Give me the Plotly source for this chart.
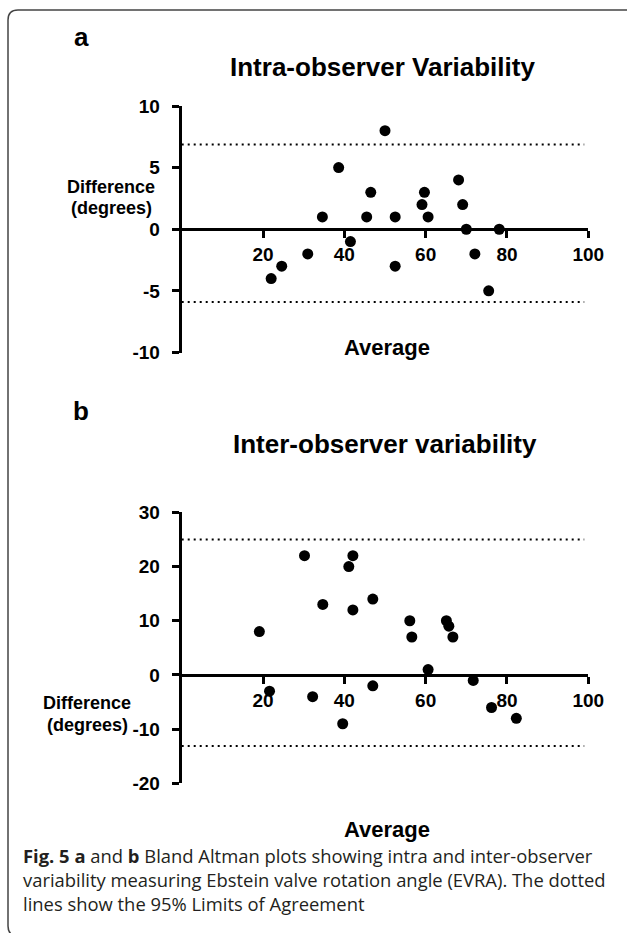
import plotly.graph_objects as go

# ---------------- data ----------------
intra_avg = [22, 24.6, 31, 34.6, 38.6, 41.5, 45.5, 46.5, 50, 52.5, 52.5, 59.1, 59.7, 60.6, 68.1, 69.1, 70, 72.1, 75.5, 78.1]
intra_diff = [-4, -3, -2, 1, 5, -1, 1, 3, 8, 1, -3, 2, 3, 1, 4, 2, 0, -2, -5, 0]
intra_loa = [6.88, -5.91]

inter_avg = [19.1, 21.6, 30.2, 32.2, 34.7, 39.6, 41.1, 42.1, 42.1, 47, 47, 56.1, 56.6, 60.6, 65.1, 65.7, 66.7, 71.7, 76.2, 82.3]
inter_diff = [8, -3, 22, -4, 13, -9, 20, 22, 12, 14, -2, 10, 7, 1, 10, 9, 7, -1, -6, -8]
inter_loa = [25.0, -13.1]

loa_span = [0, 99]
x_range = [0, 100]
x_ticks = [20, 40, 60, 80, 100]
x_ticktext = ["20", "40", "60", "80", "100"]
intra_range = [-10, 10]
intra_ticks = [-10, -5, 0, 5, 10]
intra_ticktext = ["-10", "-5", "0", "5", "10"]
inter_range = [-20, 30]
inter_ticks = [-20, -10, 0, 10, 20, 30]
inter_ticktext = ["-20", "-10", "0", "10", "20", "30"]

titles = ["Intra-observer Variability", "Inter-observer variability"]
panel_letters = ["a", "b"]

# ---------------- layout helpers ----------------
W, H = 627, 933
def px_x(p):
    return p / W
def px_y(p):
    return 1 - p / H

xdom = [px_x(181.7), px_x(588.3)]
ydom_a = [px_y(352.5), px_y(106)]
ydom_b = [px_y(783.4), px_y(512.3)]

def zero_pos(dom, rng):
    return dom[0] + (0 - rng[0]) / (rng[1] - rng[0]) * (dom[1] - dom[0])

FONT = "Liberation Sans"
tickfont = dict(family=FONT, size=19, color="black", weight="bold")

fig = go.Figure()

for (xs, ys, loa, xa, ya) in [
    (intra_avg, intra_diff, intra_loa, "x", "y"),
    (inter_avg, inter_diff, inter_loa, "x2", "y2"),
]:
    for v in loa:
        fig.add_trace(go.Scatter(x=loa_span, y=[v, v], mode="lines",
                                 line=dict(color="black", width=2, dash="2px,4px"),
                                 xaxis=xa, yaxis=ya, showlegend=False, hoverinfo="skip"))
    fig.add_trace(go.Scatter(x=xs, y=ys, mode="markers",
                             marker=dict(color="black", size=11),
                             xaxis=xa, yaxis=ya, showlegend=False, cliponaxis=False))

xaxis_common = dict(range=x_range, tickvals=x_ticks, ticktext=x_ticktext,
                    showgrid=False, zeroline=False,
                    showline=True, linewidth=3, linecolor="black",
                    ticks="outside", ticklen=7, tickwidth=3, tickcolor="black",
                    tickfont=tickfont, anchor="free", ticklabelstandoff=0)
yaxis_common = dict(showgrid=False, zeroline=False, showline=True, linewidth=3,
                    linecolor="black", ticks="outside", ticklen=7, tickwidth=3,
                    tickcolor="black", tickfont=tickfont, ticklabelstandoff=8)

fig.update_layout(
    width=W, height=H,
    margin=dict(l=0, r=0, t=0, b=0, autoexpand=False),
    paper_bgcolor="white", plot_bgcolor="white",
    xaxis=dict(domain=xdom, position=zero_pos(ydom_a, intra_range), **xaxis_common),
    yaxis=dict(domain=ydom_a, range=intra_range, tickvals=intra_ticks,
               ticktext=intra_ticktext, anchor="x", **yaxis_common),
    xaxis2=dict(domain=xdom, position=zero_pos(ydom_b, inter_range), **xaxis_common),
    yaxis2=dict(domain=ydom_b, range=inter_range, tickvals=inter_ticks,
                ticktext=inter_ticktext, anchor="x2", **yaxis_common),
)

ann = []
def add_text(text, x, y, size, bold=True, family=FONT, xanchor="center", color="black"):
    ann.append(dict(text=text, x=px_x(x), y=px_y(y), xref="paper", yref="paper",
                    showarrow=False, xanchor=xanchor, yanchor="middle",
                    font=dict(family=family, size=size, color=color,
                              weight="bold" if bold else "normal")))

# panel letters & titles
add_text(panel_letters[0], 81, 37, 26)
add_text(titles[0], 382, 67, 26)
add_text(panel_letters[1], 81, 411, 26)
add_text(titles[1], 385, 444, 26)

# y titles
add_text("Difference", 111, 187, 18)
add_text("(degrees)", 111, 208, 18)
add_text("Difference", 87, 703, 18)
add_text("(degrees)", 87, 725, 18)

# x titles
add_text("Average", 387, 347, 22)
add_text("Average", 387, 829, 22)

# caption
CAP = "Open Sans"
cap_lines = [
    "<b>Fig. 5 a</b> and <b>b</b> Bland Altman plots showing intra and inter-observer",
    "variability measuring Ebstein valve rotation angle (EVRA). The dotted",
    "lines show the 95% Limits of Agreement",
]
for i, line in enumerate(cap_lines):
    add_text(line, 21, 855 + 24 * i, 18.4, bold=False, family=CAP, xanchor="left", color="#231f20")

fig.update_layout(annotations=ann)

# rounded frame
x0, x1 = px_x(8), px_x(640)
y0, y1 = px_y(10), px_y(936)
rx, ry = 10 / W, 10 / H
path = (f"M {x1},{y0} L {x0+rx},{y0} Q {x0},{y0} {x0},{y0-ry} "
        f"L {x0},{y1+ry} Q {x0},{y1} {x0+rx},{y1} L {x1},{y1}")
fig.add_shape(type="path", path=path, xref="paper", yref="paper",
              line=dict(color="#444444", width=1.5))

fig.write_html("out.html", config={"displayModeBar": False},
               post_script="document.body.style.margin='0';document.body.style.overflow='hidden';")
